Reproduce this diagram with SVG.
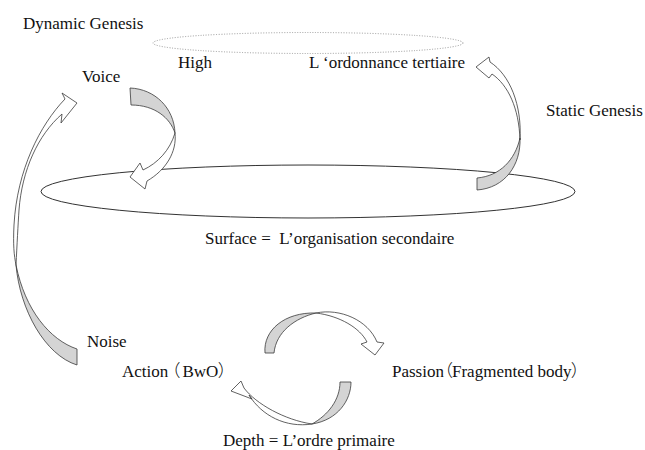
<svg xmlns="http://www.w3.org/2000/svg" width="645" height="450" viewBox="0 0 645 450">
<style>
.t{font-family:"Liberation Serif","Times New Roman",serif;font-size:17px;fill:#111;white-space:pre}
.cjk{font-family:"Noto Sans CJK JP","Noto Sans CJK SC",sans-serif;font-weight:300;font-feature-settings:"palt" 1}
.back{fill:#d4d4d4;stroke:#3a3a3a;stroke-width:0.8;stroke-linejoin:round}
.front{fill:#fff;stroke:#3a3a3a;stroke-width:0.8;stroke-linejoin:round}
.plane{fill:none;stroke:#333;stroke-width:1}
.dotted{fill:none;stroke:#999;stroke-width:1;stroke-dasharray:1 1.6}
</style>
<rect width="645" height="450" fill="#fff"/>
<g id="high-plane"><ellipse class="dotted" cx="308" cy="43" rx="155" ry="10.5"/></g>
<g id="surface-plane"><ellipse class="plane" cx="308" cy="191.5" rx="267" ry="26.5"/></g>
<g id="dynamic-genesis"><text class="t" x="23" y="29">Dynamic Genesis</text></g>
<g id="high"><text class="t" x="178" y="68">High</text></g>
<g id="tertiaire"><text class="t" x="309" y="68">L ‘ordonnance tertiaire</text></g>
<g id="voice"><text class="t" x="82" y="82">Voice</text></g>
<g id="static-genesis"><text class="t" x="546" y="116">Static Genesis</text></g>
<g id="surface"><text class="t" x="205" y="244">Surface =  L’organisation secondaire</text></g>
<g id="noise"><text class="t" x="87" y="347">Noise</text></g>
<g id="action"><text class="t" x="122" y="377">Action<tspan class="cjk" dx="3">（</tspan><tspan x="182.5">BwO</tspan><tspan class="cjk">）</tspan></text></g>
<g id="passion"><text class="t" x="392" y="377">Passion<tspan class="cjk">（</tspan><tspan x="452">Fragmented body</tspan><tspan class="cjk">）</tspan></text></g>
<g id="depth"><text class="t" x="223" y="446">Depth = L’ordre primaire</text></g>
<g id="connectors">
  <g id="arrow-voice-surface">
    <path class="back" d="M130,88 C155,89 174,108 175,133 C170,118 155,105 131,105 Z"/>
    <path class="front" d="M175,133 C177,152 166,170 147,181 L145,189 L130,177 L140,163 L143,170 C158,163 170,150 175,133 Z"/>
  </g>
  <g id="arrow-static-genesis">
    <path class="back" d="M520,138 C521,165 505,188 477,190 L477,178 C500,176 515,160 520,138 Z"/>
    <path class="front" d="M520,140 C522,105 510,75 490,62 L489,57 L476,67 L489,78 L492,74 C508,85 519,108 520,140 Z"/>
  </g>
  <g id="arrow-noise-voice">
    <path class="back" d="M16,265 C20,310 45,355 77,365 L77,349 C50,340 25,310 16,265 Z"/>
    <path class="front" d="M65,99 C40,125 17,170 14,225 C13,245 14,255 16,265 C17,245 18,225 19,210 C22,170 38,135 62,114 L61,123 L77,103 L62,93 Z"/>
  </g>
  <g id="arrow-action-passion">
    <path class="back" d="M265,353 C263,330 285,312 316,313 C295,318 276,332 274,353 Z"/>
    <path class="front" d="M316,313 C340,308 368,320 377,342 L384,343 L375,355 L361,344 L367,342 C360,328 340,316 316,313 Z"/>
  </g>
  <g id="arrow-passion-action">
    <path class="back" d="M340,382 L351,382 C351,400 338,420 312,424 C328,415 340,400 340,382 Z"/>
    <path class="front" d="M312,424 C286,428 262,416 249,395 L252,399 L231,391 L241,381 L244,388 C256,404 285,420 312,424 Z"/>
  </g>
</g>
</svg>
